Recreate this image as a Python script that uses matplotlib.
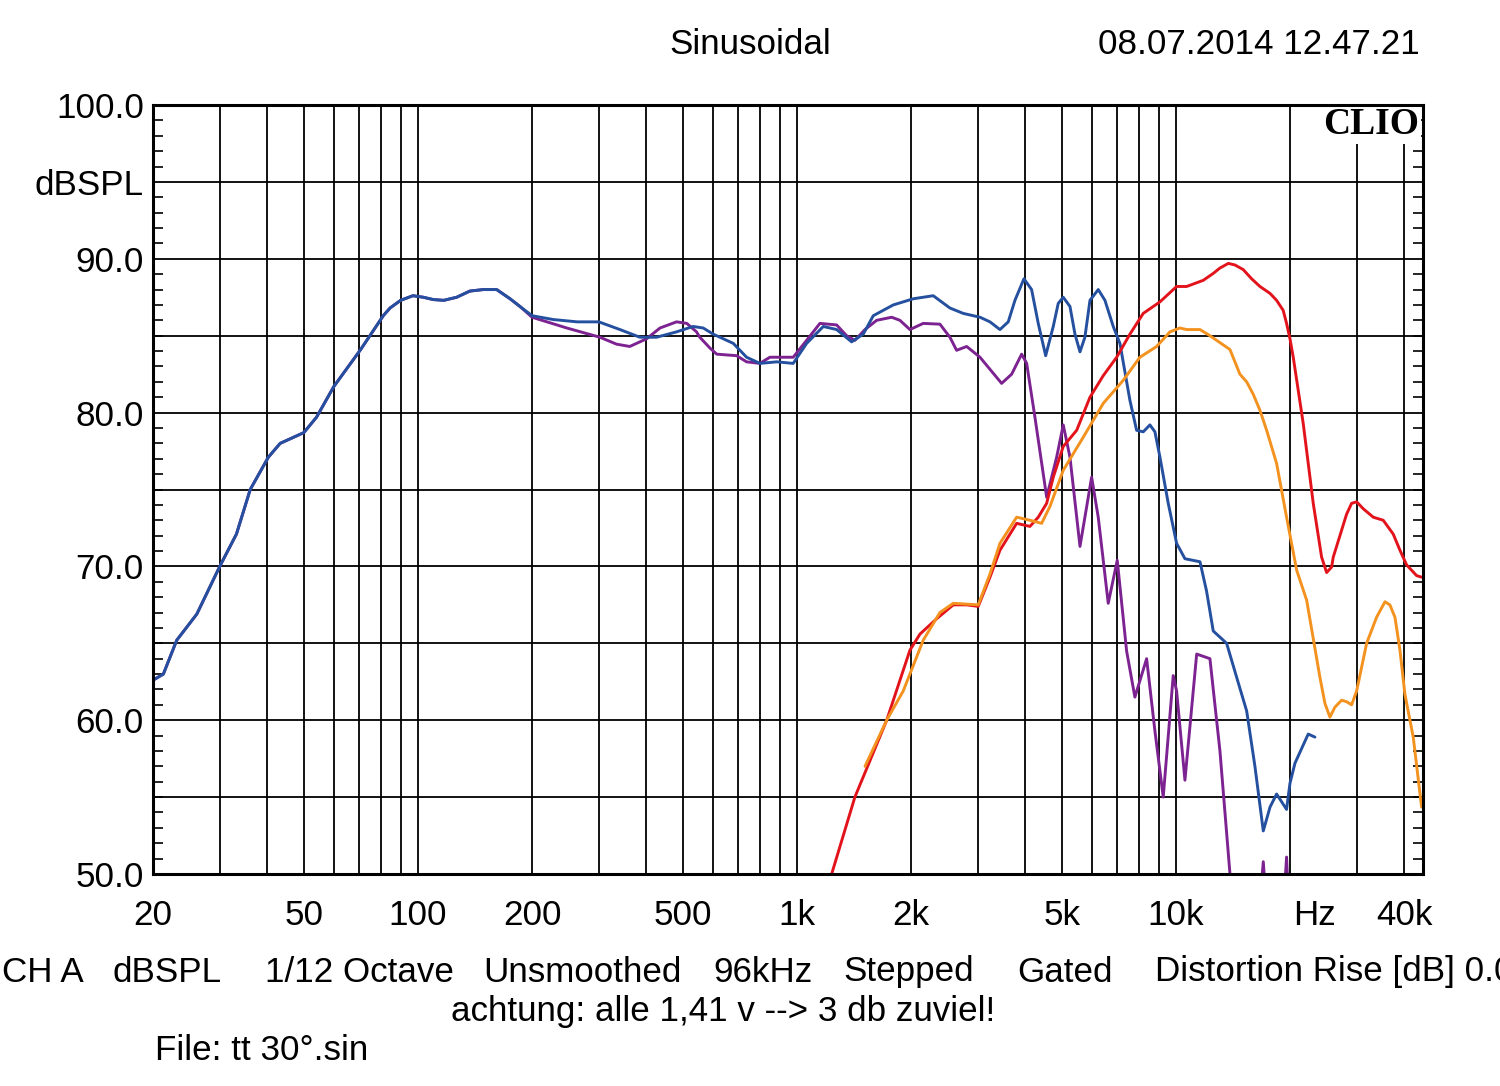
import numpy as np
import matplotlib.pyplot as plt
from matplotlib.ticker import MultipleLocator, FixedLocator

plt.rcParams['font.family'] = ['Liberation Sans', 'DejaVu Sans']

# --- Messdaten (abgelesen) ---
# blau: Frequenzgang
freq_blue = [20, 21.3, 23.1, 26.1, 30, 33.2, 36.1, 40.3, 43.3, 50, 54, 60, 70.6, 81, 84.4, 90,
             97, 103.3, 109.7, 117, 126.5, 137, 148.7, 161.3, 175, 185.8, 200, 227.5, 263, 300,
             341, 385, 426, 481, 532, 565.6, 601, 679, 736, 798, 884, 977, 1060, 1173, 1272,
             1393, 1495, 1589, 1794, 2025, 2287, 2531, 2744, 3038, 3228, 3430, 3607, 3757,
             3968, 4157, 4328, 4528, 4741, 4887, 5038, 5248, 5410, 5577, 5746, 5926, 6231,
             6490, 6826, 7109, 7553, 7866, 8189, 8529, 8792, 9065, 9533, 10030, 10550, 11560,
             12030, 12530, 13050, 13590, 14440, 15350, 16140, 16980, 17690, 18410, 19560,
             19970, 20580, 22310, 23240]
spl_blue = [62.6, 63.0, 65.2, 66.9, 70.0, 72.1, 75.0, 77.1, 78.0, 78.7, 79.7, 81.7, 84.1, 86.3, 86.8, 87.3,
            87.6, 87.5, 87.35, 87.3, 87.5, 87.9, 88.0, 88.0, 87.4, 86.9, 86.3, 86.05, 85.9, 85.9,
            85.4, 84.9, 84.9, 85.25, 85.6, 85.5, 85.1, 84.5, 83.6, 83.2, 83.3, 83.2, 84.5, 85.6, 85.4,
            84.6, 85.1, 86.3, 87.0, 87.4, 87.6, 86.8, 86.45, 86.2, 85.9, 85.4, 85.9, 87.3,
            88.7, 88.0, 85.8, 83.7, 85.6, 87.1, 87.5, 86.9, 85.1, 83.95, 84.9, 87.3, 88.0,
            87.3, 85.6, 84.5, 80.8, 78.85, 78.75, 79.2, 78.75, 77.1, 74.1, 71.5, 70.5, 70.3,
            68.4, 65.8, 65.4, 65.0, 62.8, 60.6, 57.0, 52.8, 54.35, 55.2, 54.2,
            55.9, 57.2, 59.1, 58.9]

# lila: 30 Grad (unter 200 Hz deckungsgleich mit blau)
freq_purple_hi = [200, 247, 302, 334, 362, 401, 435, 481, 512, 543, 554, 589, 614, 693, 736,
                  798, 848, 977, 1060, 1149, 1272, 1351, 1421, 1511, 1622, 1777, 1868, 1985,
                  2152, 2382, 2531, 2636, 2802, 3038, 3465, 3683, 3913, 4034, 4242, 4555,
                  4840, 5038, 5248, 5577, 5986, 6231, 6621, 6994, 7403, 7785, 8360, 8792,
                  9247, 9826, 10030, 10550, 11330, 12280, 13050, 13870, 14500, 16500, 16980,
                  17400, 19000, 19560, 19900, 20200]
spl_purple_hi = [86.2, 85.5, 84.9, 84.45, 84.3, 84.8, 85.5, 85.9, 85.8, 85.25, 84.9, 84.2, 83.8, 83.7, 83.3,
                 83.2, 83.6, 83.6, 84.7, 85.8, 85.7, 85.0, 84.7, 85.4, 86.0, 86.2, 86.0, 85.4,
                 85.8, 85.75, 84.9, 84.05, 84.3, 83.6, 81.9, 82.5, 83.8, 83.2, 79.7, 74.5,
                 77.1, 79.2, 77.1, 71.3, 75.8, 73.2, 67.6, 70.4, 64.5, 61.5, 64.0, 59.3,
                 55.0, 62.9, 61.9, 56.1, 64.3, 64.0, 58.0, 50.0, 46.0, 47.0, 50.8,
                 47.0, 46.0, 51.1, 47.0, 45.0]

# rot: Klirr
freq_red = [1234, 1421, 1724, 1985, 2110, 2336, 2583, 2802, 3006, 3228, 3430, 3796, 4115, 4328,
            4555, 4741, 5038, 5466, 5926, 6423, 6969, 7553, 8189, 9065, 10030, 10660, 11790,
            12530, 13050, 13730, 14290, 15030, 15820, 16640, 17690, 18410, 19160, 19560, 19970,
            20370, 21640, 23000, 24200, 24950, 25720, 25970, 28170, 29040, 29940, 31160,
            33110, 35190, 37390, 38950, 40550, 43090, 44420]
spl_red = [50.0, 55.0, 60.0, 64.55, 65.6, 66.6, 67.5, 67.5, 67.4, 69.3, 71.05, 72.8, 72.6, 73.2,
           74.1, 75.8, 77.8, 78.85, 81.0, 82.4, 83.6, 85.1, 86.45, 87.2, 88.2, 88.2, 88.6,
           89.05, 89.4, 89.7, 89.6, 89.3, 88.7, 88.2, 87.75, 87.3, 86.65, 85.8, 84.8,
           83.6, 79.3, 74.1, 70.6, 69.6, 69.96, 70.6, 73.4, 74.1, 74.2, 73.75,
           73.2, 73.0, 72.1, 71.05, 70.1, 69.4, 69.3]

# orange: Klirr
freq_orange = [1511, 1724, 1906, 2152, 2382, 2583, 3006, 3228, 3430, 3796, 4115, 4418, 4647,
               5038, 5689, 6423, 7253, 8026, 8884, 9632, 10230, 10660, 11560, 12280, 13870,
               14730, 15350, 15970, 16640, 17330, 18410, 19560, 20800, 22100, 23950, 24690,
               25450, 26240, 27330, 28170, 29040, 29940, 31810, 33800, 35560, 36640, 37780,
               38950, 40130, 42220, 44420]
spl_orange = [57.0, 60.0, 61.9, 65.2, 67.0, 67.6, 67.5, 69.5, 71.5, 73.2, 73.0, 72.8, 73.9,
              76.25, 78.4, 80.6, 82.1, 83.6, 84.3, 85.25, 85.5, 85.4, 85.4, 85.0, 84.1,
              82.5, 82.0, 81.2, 80.15, 78.85, 76.7, 73.2, 69.75, 67.8, 62.8, 61.1,
              60.2, 60.85, 61.3, 61.2, 61.0, 61.9, 65.0, 66.7, 67.7, 67.5, 66.7,
              64.55, 61.7, 58.9, 54.35]

grid_freqs = [20, 30, 40, 50, 60, 70, 80, 90, 100, 200, 300, 400, 500, 600, 700, 800, 900,
              1000, 2000, 3000, 4000, 5000, 6000, 7000, 8000, 9000, 10000, 20000, 30000, 40000]
grid_levels = [55, 60, 65, 70, 75, 80, 85, 90, 95]

x_ticks = [20, 50, 100, 200, 500, 1000, 2000, 5000, 10000, 23200, 40000]
x_labels = ['20', '50', '100', '200', '500', '1k', '2k', '5k', '10k', 'Hz', '40k']
y_ticks = [50, 60, 70, 80, 90, 95, 100]
y_labels = ['50.0', '60.0', '70.0', '80.0', '90.0', 'dBSPL', '100.0']

info_texts = ['CH A', 'dBSPL', '1/12 Octave', 'Unsmoothed', '96kHz', 'Stepped', 'Gated',
              'Distortion Rise [dB] 0.0']
info_x = [2, 113, 265, 483, 713, 843, 1017, 1155]

# lila unter 200 Hz = blau
n_low = freq_blue.index(200)
freq_purple = freq_blue[:n_low] + freq_purple_hi
spl_purple = spl_blue[:n_low] + spl_purple_hi

W, H = 1500, 1086
fs = 25.2

fig = plt.figure(figsize=(W / 100, H / 100), dpi=100)
ax = fig.add_axes([153 / W, 1 - 874 / H, (1423 - 153) / W, (874 - 105) / H])
ax.set_xscale('log')
ax.set_xlim(20, 44800)
ax.set_ylim(50, 100)

# Gitter
for f in grid_freqs:
    ax.axvline(f, color='black', lw=1.3, zorder=1)
for lv in grid_levels:
    ax.axhline(lv, color='black', lw=1.3, zorder=1)

style = dict(lw=2.1, solid_joinstyle='round', solid_capstyle='round')
ax.plot(freq_purple, spl_purple, color='#7d2391', zorder=3, **style)
ax.plot(freq_blue, spl_blue, color='#24509f', zorder=4, **style)
ax.plot(freq_red, spl_red, color='#e3131c', zorder=5, **style)
ax.plot(freq_orange, spl_orange, color='#f3921f', zorder=6, **style)

ax.xaxis.set_major_locator(FixedLocator(x_ticks))
ax.set_xticklabels(x_labels)
ax.xaxis.set_minor_locator(FixedLocator([]))
ax.yaxis.set_major_locator(FixedLocator(y_ticks))
ax.set_yticklabels(y_labels)
ax.yaxis.set_minor_locator(MultipleLocator(1))
ax.tick_params(axis='both', which='major', length=0, labelsize=fs)
ax.tick_params(axis='x', which='major', pad=18)
ax.tick_params(axis='y', which='major', pad=6.5)
ax.tick_params(axis='y', which='minor', direction='in', length=7, width=1.2,
               left=True, right=True)
for sp in ax.spines.values():
    sp.set_linewidth(2.2)
    sp.set_zorder(10)

ax.text(0.997, 0.974, 'CLIO', transform=ax.transAxes, ha='right', va='center',
        family=['Liberation Serif', 'DejaVu Serif'], fontweight='bold', fontsize=27,
        bbox=dict(facecolor='white', edgecolor='none', pad=1), zorder=8)

fig.text(750 / W, 1 - 45 / H, 'Sinusoidal', ha='center', va='center', fontsize=fs)
fig.text(1420 / W, 1 - 45 / H, '08.07.2014 12.47.21', ha='right', va='center', fontsize=fs)

for t, xp in zip(info_texts, info_x):
    fig.text(xp / W, 1 - 972 / H, t, ha='left', va='center', fontsize=fs)
fig.text(723 / W, 1 - 1012 / H, 'achtung: alle 1,41 v --> 3 db zuviel!', ha='center',
         va='center', fontsize=fs)
fig.text(155 / W, 1 - 1051 / H, 'File: tt 30°.sin', ha='left', va='center', fontsize=fs)

fig.savefig('out.png', dpi=100, facecolor='white')
